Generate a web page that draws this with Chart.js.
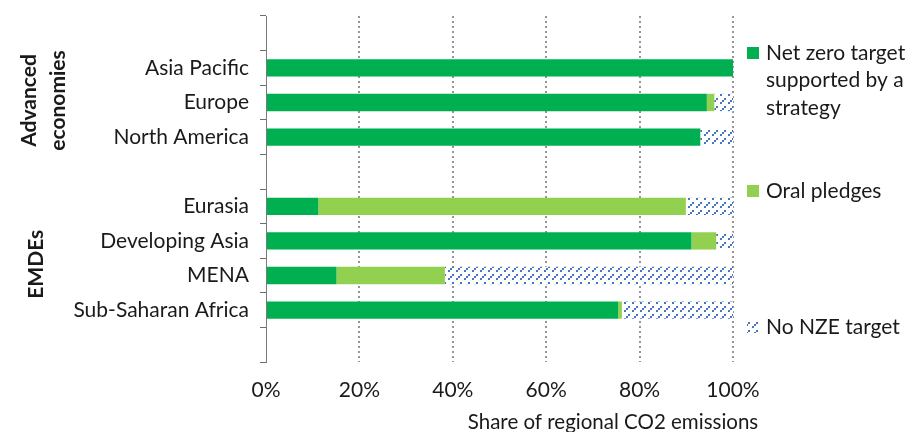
<!DOCTYPE html>
<html>
<head>
<meta charset="utf-8">
<script src="https://cdn.jsdelivr.net/npm/chart.js@4.4.1/dist/chart.umd.min.js"></script>
<style>
  html, body { margin: 0; padding: 0; background: #fff; }
  #wrap { width: 910px; height: 432px; }
</style>
</head>
<body>
<div id="wrap"><canvas id="nzeChart"></canvas></div>
<script>
// Regions (blank rows separate the two groups)
const regions = ["", "Asia Pacific", "Europe", "North America", "", "Eurasia", "Developing Asia", "MENA", "Sub-Saharan Africa", ""];
const netZeroStrategy = [null, 100, 94.4, 93.0, null, 11.2, 91.1, 15.1, 75.4, null];
const oralPledges     = [null, 0,   1.6,  0,    null, 78.7, 5.3,  23.2, 0.8,  null];
const noTarget        = [null, 0,   4.0,  7.0,  null, 10.1, 3.6,  61.7, 23.8, null];
const seriesNames = ["Net zero target supported by a strategy", "Oral pledges", "No NZE target"];
const legendLines = [["Net zero target", "supported by a", "strategy"], ["Oral pledges"], ["No NZE target"]];
const groupLabels = [["Advanced", "economies"], ["EMDEs"]];
const groupRanges = [[1, 3], [5, 8]];
const xTitle = "Share of regional CO2 emissions";

const FONT = "Lato, 'Open Sans', sans-serif";
const TEXT = "#1a1a1a";

// blue dashed diagonal hatch
function makeHatch() {
  const c = document.createElement("canvas");
  c.width = 8; c.height = 8;
  const g = c.getContext("2d");
  g.fillStyle = "#ffffff";
  g.fillRect(0, 0, 8, 8);
  g.fillStyle = "#4676c0";
  for (let i = 0; i < 3; i++) {
    g.fillRect(i * 2, 6 - i * 2, 2, 2);
  }
  return g.createPattern(c, "repeat");
}
const hatch = makeHatch();

const sideLabels = {
  id: "sideLabels",
  afterDraw(chart) {
    const ctx = chart.ctx;
    const y = chart.scales.y;
    const area = chart.chartArea;
    ctx.save();

    // group labels, rotated
    ctx.fillStyle = TEXT;
    ctx.font = "bold 21px " + FONT;
    ctx.textAlign = "center";
    ctx.textBaseline = "middle";
    groupLabels.forEach((lines, gi) => {
      const [a, b] = groupRanges[gi];
      const cy = (y.getPixelForValue(a) + y.getPixelForValue(b)) / 2 + (lines.length > 1 ? -2 : 6);
      const cx = lines.length > 1 ? 44 : 36;
      ctx.save();
      ctx.translate(cx, cy);
      ctx.rotate(-Math.PI / 2);
      lines.forEach((t, i) => {
        ctx.fillText(t, 0, (i - (lines.length - 1) / 2) * 29);
      });
      ctx.restore();
    });

    // legend on the right
    const itemY = [53, 191, 327];
    const mx = area.right + 14;
    ctx.font = "21px " + FONT;
    ctx.textAlign = "left";
    chart.data.datasets.forEach((ds, i) => {
      const yy = itemY[i];
      ctx.fillStyle = ds.backgroundColor;
      ctx.fillRect(mx, yy - 6, 12, 12);
      ctx.fillStyle = TEXT;
      legendLines[i].forEach((t, li) => {
        ctx.fillText(t, mx + 19, yy + li * 27.5);
      });
    });

    // axis title
    ctx.font = "20.5px " + FONT;
    ctx.textAlign = "center";
    ctx.fillText(xTitle, area.right - 120, 422);
    ctx.restore();
  }
};

new Chart(document.getElementById("nzeChart"), {
  type: "bar",
  data: {
    labels: regions,
    datasets: [
      { label: seriesNames[0], data: netZeroStrategy, backgroundColor: "#00b050" },
      { label: seriesNames[1], data: oralPledges, backgroundColor: "#92d050" },
      { label: seriesNames[2], data: noTarget, backgroundColor: hatch }
    ]
  },
  options: {
    indexAxis: "y",
    responsive: true,
    maintainAspectRatio: false,
    animation: false,
    datasets: { bar: { barPercentage: 0.5, categoryPercentage: 1, borderWidth: 0 } },
    layout: { padding: { top: 16, right: 177, left: 0, bottom: 0 } },
    plugins: { legend: { display: false }, tooltip: { enabled: false } },
    scales: {
      x: {
        stacked: true,
        min: 0,
        max: 100,
        ticks: {
          stepSize: 20,
          padding: 16,
          color: TEXT,
          font: { family: FONT, size: 21 },
          callback: v => v + "%"
        },
        grid: {
          drawTicks: false,
          lineWidth: 2,
          color: c => (c.tick && c.tick.value === 0 ? "rgba(0,0,0,0)" : "#959595")
        },
        border: { display: false, dash: [2, 3] },
        afterFit(scale) { scale.height = 70; scale.paddingLeft = 0; scale.paddingRight = 0; }
      },
      y: {
        stacked: true,
        ticks: {
          padding: 11,
          color: TEXT,
          font: { family: FONT, size: 21 }
        },
        grid: {
          offset: true,
          drawOnChartArea: false,
          drawTicks: true,
          tickLength: 6,
          color: "#6e6e6e"
        },
        border: { display: true, color: "#7a7a7a", width: 1 },
        afterFit(scale) { scale.width = 266; scale.paddingTop = 0; scale.paddingBottom = 0; }
      }
    }
  },
  plugins: [sideLabels]
});
</script>
</body>
</html>
